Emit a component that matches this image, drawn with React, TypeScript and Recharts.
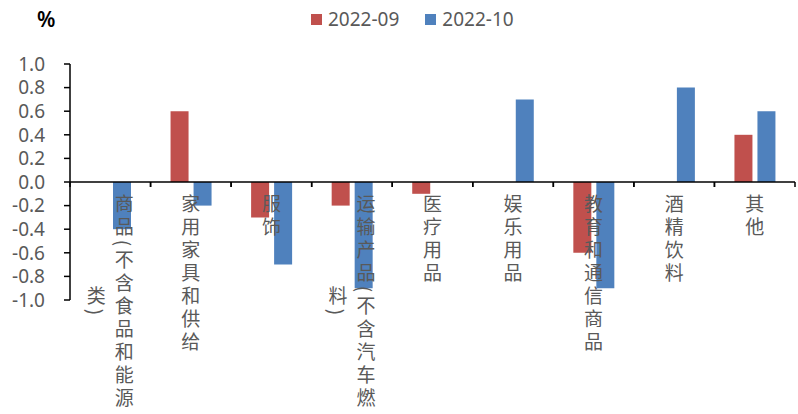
import { Bar, BarChart, ReferenceLine, XAxis, YAxis } from "recharts";

const CATEGORIES = [
  "商品(不含食品和能源类)",
  "家用家具和供给",
  "服饰",
  "运输产品(不含汽车燃料)",
  "医疗用品",
  "娱乐用品",
  "教育和通信商品",
  "酒精饮料",
  "其他",
];
const SEP_2022 = [0, 0.6, -0.3, -0.2, -0.1, 0, -0.6, 0, 0.4];
const OCT_2022 = [-0.4, -0.2, -0.7, -0.9, 0, 0.7, -0.9, 0.8, 0.6];
const Y_TICKS = [-1.0, -0.8, -0.6, -0.4, -0.2, 0, 0.2, 0.4, 0.6, 0.8, 1.0];

const SERIES = [
  { key: "2022-09", color: "#C0504D", values: SEP_2022 },
  { key: "2022-10", color: "#4F81BD", values: OCT_2022 },
];

const data = CATEGORIES.map((name, i) => {
  const row: Record<string, string | number> = { name };
  for (const s of SERIES) row[s.key] = s.values[i];
  return row;
});

// layout
const WIDTH = 798;
const HEIGHT = 414;
const TOP = 64;
const LEFT = 70;
const RIGHT = 3;
const X_AXIS_H = 114;
const PLOT_W = WIDTH - LEFT - RIGHT;
const PLOT_H = HEIGHT - TOP - X_AXIS_H;
const Y_MIN = -1;
const Y_MAX = 1;
const ZERO_Y = TOP + (PLOT_H * Y_MAX) / (Y_MAX - Y_MIN);
const BAND = PLOT_W / CATEGORIES.length;

const GREY = "#595959";
const LABEL_FONT = '"Noto Sans CJK SC", "Noto Sans", sans-serif';
const LABEL_SIZE = 19;
const LETTER_SPACING = 4;
const CHAR_STEP = LABEL_SIZE + LETTER_SPACING;
const PAREN_STEP = 10;
const COL_GAP = 28;
const COL_MAX = 220;
const LABEL_TOP = 12;

const stepOf = (ch: string) => (ch === "(" || ch === ")" ? PAREN_STEP : CHAR_STEP);

// split a label into vertical columns no taller than COL_MAX
function wrapColumns(label: string): string[] {
  const cols: string[] = [""];
  let h = 0;
  for (const ch of Array.from(label)) {
    const s = stepOf(ch);
    if (h + s > COL_MAX && cols[cols.length - 1].length) {
      cols.push("");
      h = 0;
    }
    cols[cols.length - 1] += ch;
    h += s;
  }
  return cols;
}

function CategoryTick(props: any) {
  const cx = Number(props.x);
  const cols = wrapColumns(String(props.payload?.value ?? ""));
  const heights = cols.map((c) => Array.from(c).reduce((a, ch) => a + stepOf(ch), 0));
  const maxH = Math.max(...heights);
  const midY = ZERO_Y + LABEL_TOP + maxH / 2;

  return (
    <g>
      {[cx - BAND / 2, cx + BAND / 2].map((tx, i) => (
        <line key={i} x1={tx} x2={tx} y1={ZERO_Y} y2={ZERO_Y + 5} stroke="#000" strokeWidth={1.5} />
      ))}
      {cols.map((col, ci) => (
        <text
          key={ci}
          x={cx + ((cols.length - 1) / 2 - ci) * COL_GAP}
          y={midY}
          textAnchor="middle"
          fill={GREY}
          fontSize={LABEL_SIZE}
          fontFamily={LABEL_FONT}
          letterSpacing={LETTER_SPACING}
          style={{ writingMode: "vertical-rl" }}
        >
          {col}
        </text>
      ))}
    </g>
  );
}

export default function App() {
  return (
    <div style={{ position: "absolute", left: 0, top: 0, width: WIDTH, height: HEIGHT, background: "#fff" }}>
      <div
        style={{
          position: "absolute",
          left: 37,
          top: 9,
          fontSize: 21,
          lineHeight: 1,
          fontWeight: 600,
          fontFamily: '"Noto Sans", sans-serif',
          color: "#000",
        }}
      >
        %
      </div>
      <div
        style={{
          position: "absolute",
          left: 311,
          top: 10,
          display: "flex",
          alignItems: "center",
          fontSize: 19,
          lineHeight: 1,
          fontFamily: '"Noto Sans", sans-serif',
          color: GREY,
        }}
      >
        {SERIES.map((s, i) => (
          <span key={s.key} style={{ display: "flex", alignItems: "center", marginLeft: i ? 26 : 0 }}>
            <span style={{ width: 11, height: 11, background: s.color, marginRight: 6 }} />
            {s.key}
          </span>
        ))}
      </div>
      <BarChart
        width={WIDTH}
        height={HEIGHT}
        data={data}
        margin={{ top: TOP, right: RIGHT, bottom: 0, left: 0 }}
        barSize={18}
        barGap={5}
      >
        <YAxis
          width={LEFT}
          domain={[Y_MIN, Y_MAX]}
          ticks={Y_TICKS}
          interval={0}
          tickFormatter={(v: number) => v.toFixed(1)}
          tick={{ fill: GREY, fontSize: 19, fontFamily: '"Noto Sans", sans-serif' }}
          tickSize={6}
          tickMargin={19}
          axisLine={{ stroke: "#000", strokeWidth: 1.5 }}
          tickLine={{ stroke: "#000", strokeWidth: 1.5 }}
        />
        {SERIES.map((s) => (
          <Bar key={s.key} dataKey={s.key} fill={s.color} isAnimationActive={false} />
        ))}
        <ReferenceLine y={0} stroke="#000" strokeWidth={1.5} />
        <XAxis
          dataKey="name"
          height={X_AXIS_H}
          interval={0}
          axisLine={false}
          tickLine={false}
          tick={<CategoryTick />}
        />
      </BarChart>
    </div>
  );
}
